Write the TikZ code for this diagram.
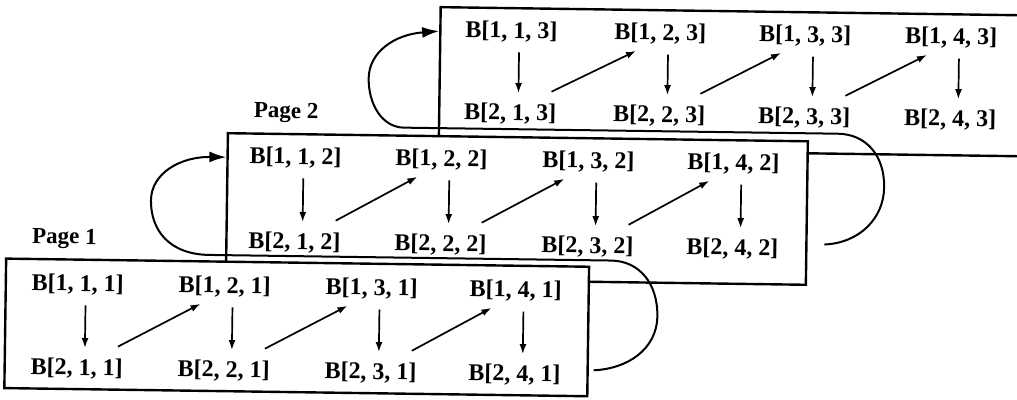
\documentclass[tikz,border=0pt]{standalone}
\usepackage{fontspec}
\setmainfont{Liberation Serif}
\usetikzlibrary{arrows.meta}
\begin{document}
\begin{tikzpicture}[x=1pt,y=-1pt,
  lbl/.style={font=\bfseries\fontsize{24}{28}\selectfont, inner sep=0pt, text height=16pt, text depth=4pt},
  pglbl/.style={font=\bfseries\fontsize{23}{27}\selectfont, inner sep=0pt, anchor=base},
  pagebox/.style={draw, fill=white, line width=2.4pt, inner sep=0pt},
  arr/.style={-{Latex[length=10pt,width=7pt]}, line width=1.7pt},
  vert/.style={arr, shorten <=10pt, shorten >=11pt},
  link/.style={line width=2pt, -{Latex[length=17pt,width=11pt]}},
]
\useasboundingbox (0,0) rectangle (1017,399);
\fill[white] (0,0) rectangle (1017,399);
\clip (0,0) rectangle (1017,399);
\begin{scope}[rotate around={-0.8:(500,200)}, transform shape]
% page boxes (back to front)
\node[pagebox, minimum width=602pt, minimum height=141pt] (p3) at (739,78.5) {};
\node[pagebox, minimum width=580pt, minimum height=143.5pt] (p2) at (517,208.75) {};
\node[pagebox, minimum width=583pt, minimum height=129.5pt] (p1) at (298.5,330.25) {};

% labels
\node[pglbl] (pg1) at (65,250) {Page 1};
\node[pglbl] (pg2) at (285,121) {Page 2};

% page 3 entries
\node[lbl] (t113) at (509,32) {B[1, 1, 3]};
\node[lbl] (t123) at (658,32) {B[1, 2, 3]};
\node[lbl] (t133) at (803,32) {B[1, 3, 3]};
\node[lbl] (t143) at (949,32) {B[1, 4, 3]};
\node[lbl] (t213) at (509,114) {B[2, 1, 3]};
\node[lbl] (t223) at (658,114) {B[2, 2, 3]};
\node[lbl] (t233) at (803,114) {B[2, 3, 3]};
\node[lbl] (t243) at (949,114) {B[2, 4, 3]};

% page 2 entries
\node[lbl] (t112) at (295,161) {B[1, 1, 2]};
\node[lbl] (t122) at (441,161) {B[1, 2, 2]};
\node[lbl] (t132) at (588,161) {B[1, 3, 2]};
\node[lbl] (t142) at (733,161) {B[1, 4, 2]};
\node[lbl] (t212) at (295,246) {B[2, 1, 2]};
\node[lbl] (t222) at (441,246) {B[2, 2, 2]};
\node[lbl] (t232) at (588,246) {B[2, 3, 2]};
\node[lbl] (t242) at (733,246) {B[2, 4, 2]};

% page 1 entries
\node[lbl] (t111) at (79,291) {B[1, 1, 1]};
\node[lbl] (t121) at (226,291) {B[1, 2, 1]};
\node[lbl] (t131) at (373,291) {B[1, 3, 1]};
\node[lbl] (t141) at (517,291) {B[1, 4, 1]};
\node[lbl] (t211) at (79,375) {B[2, 1, 1]};
\node[lbl] (t221) at (226,375) {B[2, 2, 1]};
\node[lbl] (t231) at (373,375) {B[2, 3, 1]};
\node[lbl] (t241) at (517,375) {B[2, 4, 1]};

% inner arrows
\foreach \p in {1,2,3}{
  \foreach \c in {1,2,3,4}{
    \draw[vert] ([xshift=8pt]t1\c\p.south) -- ([xshift=8pt]t2\c\p.north);
  }
  \foreach \c/\n in {1/2,2/3,3/4}{
    \draw[arr] ([xshift=41pt,yshift=23pt]t2\c\p.center) -- ([xshift=-24pt,yshift=-17pt]t1\n\p.center);
  }
}

% connector page 1 -> page 2
\coordinate (c12s) at (596,369);
\coordinate (c12r) at (659,314);
\coordinate (c12t) at (612,259);
\coordinate (c12l) at (210,259);
\coordinate (c12b) at (151,205);
\draw[link] (c12s) .. controls (630,367) and (659,347) .. (c12r)
  .. controls (659,281) and (640,259) .. (c12t) -- (c12l)
  .. controls (170,259) and (151,235) .. (c12b)
  .. controls (151,178) and (180,161) .. (p2.west |- t112);

% connector page 2 -> page 3
\coordinate (c23s) at (825,240);
\coordinate (c23r) at (884,182);
\coordinate (c23t) at (837,129);
\coordinate (c23l) at (403,129);
\coordinate (c23b) at (367,80);
\draw[link] (c23s) .. controls (860,238) and (884,213) .. (c23r)
  .. controls (884,150) and (865,129) .. (c23t) -- (c23l)
  .. controls (381,129) and (367,106) .. (c23b)
  .. controls (367,54) and (392,36) .. (p3.west |- t113);
\end{scope}
\end{tikzpicture}
\end{document}
